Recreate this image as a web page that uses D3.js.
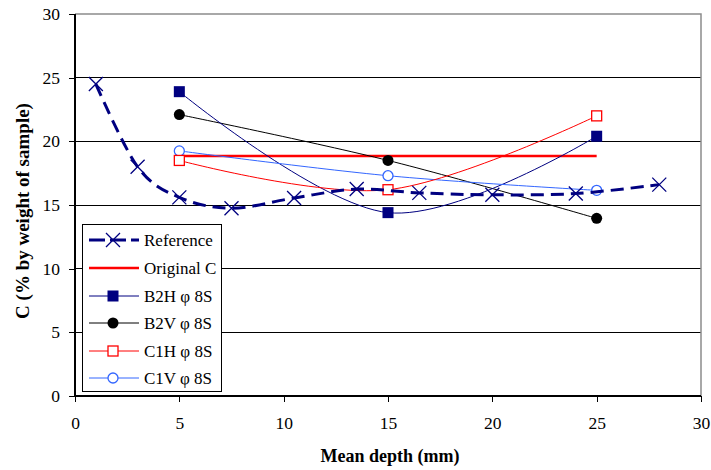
<!DOCTYPE html>
<html><head><meta charset="utf-8">
<script src="https://cdn.jsdelivr.net/npm/d3@7/dist/d3.min.js"></script>
<style>body{margin:0;background:#fff}svg{display:block}</style>
</head><body><svg id="c" width="711" height="470"></svg>
<script>
const xTicks = [0,5,10,15,20,25,30];
const yTicks = [0,5,10,15,20,25,30];
const refX = [1,3,5,7.5,10.5,13.5,16.5,20,24,28];
const refY = [24.5,18.0,15.6,14.75,15.55,16.25,15.95,15.8,15.9,16.6];
const origX = [5,25];
const origY = [18.85,18.85];
const sampleX = [5,15,25];
const b2hY = [23.9,14.4,20.4];
const b2vY = [22.1,18.5,13.95];
const c1hY = [18.5,16.2,22.0];
const c1vY = [19.25,17.3,16.15];
const legendLabels = ["Reference","Original C","B2H \u03c6 8S","B2V \u03c6 8S","C1H \u03c6 8S","C1V \u03c6 8S"];

const FONT = '"Liberation Serif"';
const svg = d3.select("#c");
const x = d3.scaleLinear().domain([0,30]).range([75,701]);
const y = d3.scaleLinear().domain([0,30]).range([396,14]);

svg.append("g").selectAll("line").data(yTicks.filter(v=>v>0&&v<30)).join("line")
  .attr("x1",x(0)).attr("x2",x(30)).attr("y1",d=>y(d)).attr("y2",d=>y(d))
  .attr("stroke","#000").attr("stroke-width",1).attr("shape-rendering","crispEdges");
svg.append("path").attr("d",`M${x(0)},${y(30)}H${x(30)}V${y(0)}`).attr("fill","none")
  .attr("stroke","#8c8c8c").attr("stroke-width",1.5);

const xa = svg.append("g").attr("transform",`translate(0,${y(0)})`)
  .call(d3.axisBottom(x).tickValues(xTicks).tickSize(6).tickPadding(15).tickFormat(d3.format("d")));
const ya = svg.append("g").attr("transform",`translate(${x(0)},0)`)
  .call(d3.axisLeft(y).tickValues(yTicks).tickSize(6).tickPadding(9).tickFormat(d3.format("d")));
[xa,ya].forEach(a=>{
  a.selectAll("path").attr("stroke","#000").attr("stroke-width",1.2).attr("shape-rendering","crispEdges");
  a.selectAll("line").attr("stroke","#000").attr("shape-rendering","crispEdges");
  a.selectAll("text").style("font-family",FONT).style("font-size","17.5px").attr("fill","#000");
});
xa.select(".domain").attr("d",`M${x(0)},0H${x(30)}`);
ya.select(".domain").attr("d",`M0,${y(0)}V${y(30)}`);

svg.append("text").attr("x",390).attr("y",462).attr("text-anchor","middle")
  .style("font-family",FONT).style("font-weight","bold").style("font-size","18px").text("Mean depth (mm)");
svg.append("text").attr("transform","translate(29,211) rotate(-90)").attr("text-anchor","middle")
  .style("font-family",FONT).style("font-weight","bold").style("font-size","19px").text("C (% by weight of sample)");

const curve = d3.curveCatmullRom.alpha(0);
const line = d3.line().x(d=>x(d[0])).y(d=>y(d[1])).curve(curve);
const zip = (a,b)=>a.map((v,i)=>[v,b[i]]);

function xMarker(g,cx,cy,s,col){
  g.append("path").attr("d",`M${cx-s},${cy-s}L${cx+s},${cy+s}M${cx-s},${cy+s}L${cx+s},${cy-s}`)
   .attr("stroke",col).attr("stroke-width",1.3).attr("fill","none");
}
function marker(g,type,cx,cy,col){
  if(type==="x") xMarker(g,cx,cy,7,col);
  else if(type==="sq") g.append("rect").attr("x",cx-5.5).attr("y",cy-5.5).attr("width",11).attr("height",11).attr("fill",col);
  else if(type==="ci") g.append("circle").attr("cx",cx).attr("cy",cy).attr("r",5.5).attr("fill",col);
  else if(type==="hsq") g.append("rect").attr("x",cx-5).attr("y",cy-5).attr("width",10).attr("height",10).attr("fill","#fff").attr("stroke",col).attr("stroke-width",1.3);
  else if(type==="hci") g.append("circle").attr("cx",cx).attr("cy",cy).attr("r",5).attr("fill","#fff").attr("stroke",col).attr("stroke-width",1.3);
}

const series = [
  {name:legendLabels[0], xs:refX, ys:refY, col:"#000080", w:3, dash:"13,7", m:"x"},
  {name:legendLabels[1], xs:origX, ys:origY, col:"#FF0000", w:2.6, dash:null, m:null},
  {name:legendLabels[2], xs:sampleX, ys:b2hY, col:"#000080", w:1, dash:null, m:"sq"},
  {name:legendLabels[3], xs:sampleX, ys:b2vY, col:"#000000", w:1, dash:null, m:"ci"},
  {name:legendLabels[4], xs:sampleX, ys:c1hY, col:"#FF0000", w:1, dash:null, m:"hsq"},
  {name:legendLabels[5], xs:sampleX, ys:c1vY, col:"#3366FF", w:1, dash:null, m:"hci"}
];
const order = [1,3,2,5,4,0];
order.forEach(i=>{
  const s = series[i];
  const g = svg.append("g");
  g.append("path").attr("d",line(zip(s.xs,s.ys))).attr("fill","none")
   .attr("stroke",s.col).attr("stroke-width",s.w).attr("stroke-dasharray",s.dash);
  if(s.m) zip(s.xs,s.ys).forEach(p=>marker(g,s.m,x(p[0]),y(p[1]),s.col));
});

const lg = svg.append("g");
lg.append("rect").attr("x",82.5).attr("y",224.5).attr("width",139).attr("height",167)
  .attr("fill","#fff").attr("stroke","#000").attr("stroke-width",1);
const ly = [240,268,296,323,351,378];
series.forEach((s,i)=>{
  const yy = ly[i];
  lg.append("line").attr("x1",89).attr("x2",139).attr("y1",yy).attr("y2",yy)
    .attr("stroke",s.col).attr("stroke-width",s.w).attr("stroke-dasharray",s.dash?"16,5":null);
  if(s.m) marker(lg,s.m,113,yy,s.col);
  lg.append("text").attr("x",144).attr("y",yy+6).style("font-family",FONT).style("font-size","17px").text(s.name);
});
</script></body></html>
